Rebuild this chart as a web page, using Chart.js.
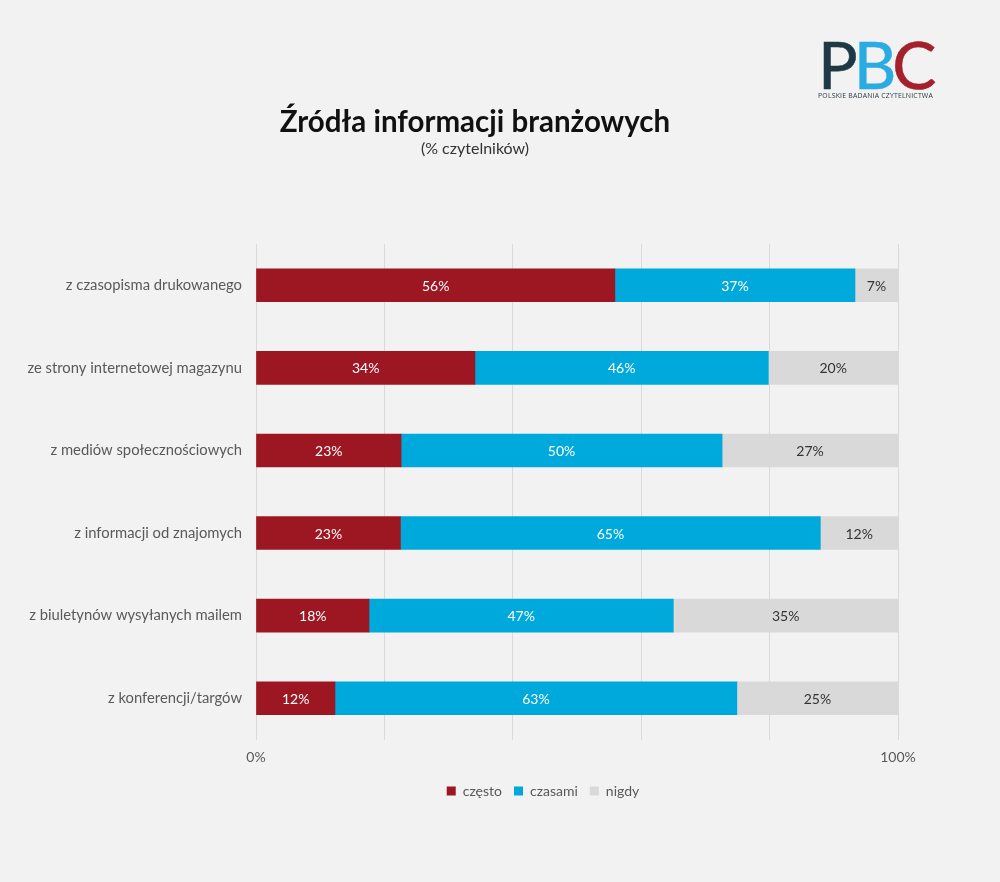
<!DOCTYPE html>
<html><head><meta charset="utf-8">
<script src="https://cdn.jsdelivr.net/npm/chart.js@4.4.1/dist/chart.umd.min.js"></script>
<style>
html,body{margin:0;padding:0;background:#f2f2f2;}
#wrap{position:relative;width:1000px;height:882px;overflow:hidden;}
#c{position:absolute;left:0;top:0;}
#title{position:absolute;left:0;width:950px;top:104px;text-align:center;font:700 29.5px Lato;color:#111;line-height:34px;}
#sub{position:absolute;left:0;width:950px;top:139px;text-align:center;font:400 16px Lato;color:#333;line-height:18px;}
#logo{position:absolute;left:818px;top:29px;width:140px;}
#logo .l{font:400 66px Lato;line-height:70px;letter-spacing:-4px;white-space:nowrap;}
#logo .l span{-webkit-text-stroke:0.6px currentColor;}
#logo .s{font:400 6.9px "Open Sans";color:#2b3a44;letter-spacing:0.2px;white-space:nowrap;margin-top:-8px;margin-left:0px;}
</style></head>
<body><div id="wrap">
<canvas id="c" width="1000" height="882"></canvas>
<div id="logo"><div class="l"><span style="color:#1e3846">P</span><span style="color:#2aace2">B</span><span style="color:#a4202c">C</span></div><div class="s">POLSKIE BADANIA CZYTELNICTWA</div></div>
<div id="title">Źródła informacji branżowych</div>
<div id="sub">(% czytelników)</div>
</div>
<script>
const categories = ['z czasopisma drukowanego','ze strony internetowej magazynu','z mediów społecznościowych','z informacji od znajomych','z biuletynów wysyłanych mailem','z konferencji/targów'];
const czesto = [55.9, 34.1, 22.6, 22.5, 17.6, 12.3];
const czasami = [37.4, 45.7, 50.0, 65.4, 47.4, 62.6];
const nigdy = [6.7, 20.2, 27.4, 12.1, 35.0, 25.1];
const seriesNames = ['często','czasami','nigdy'];
const xTickLabels = {0:'0%', 100:'100%'};

const colors = ['#9c1722','#00a9dc','#d9d9d9'];
const labelColors = ['#ffffff','#ffffff','#333333'];

const valueLabels = {
  id:'valueLabels',
  afterDatasetsDraw(chart){
    const ctx = chart.ctx;
    ctx.save();
    ctx.font = '400 14px Lato';
    ctx.textAlign = 'center';
    ctx.textBaseline = 'middle';
    chart.data.datasets.forEach((ds,i)=>{
      const meta = chart.getDatasetMeta(i);
      meta.data.forEach((el,j)=>{
        const v = ds.data[j];
        ctx.fillStyle = labelColors[i];
        ctx.fillText(Math.round(v)+'%', (el.x+el.base)/2, el.y+1);
      });
    });
    ctx.restore();
  }
};

// centre the legend under the region x=188..898 as in the reference
const legendShift = {
  id:'legendShift',
  afterLayout(chart){ if (chart.legend) { chart.legend.left = 188; } }
};

new Chart(document.getElementById('c'), {
  type:'bar',
  data:{
    labels: categories,
    datasets:[
      {label:seriesNames[0], data:czesto, backgroundColor:colors[0], barThickness:33},
      {label:seriesNames[1], data:czasami, backgroundColor:colors[1], barThickness:33},
      {label:seriesNames[2], data:nigdy, backgroundColor:colors[2], barThickness:33}
    ]
  },
  options:{
    indexAxis:'y',
    responsive:false,
    animation:false,
    devicePixelRatio:1,
    layout:{padding:{left:20,right:102,top:244,bottom:74}},
    scales:{
      x:{stacked:true,min:0,max:100,
        ticks:{stepSize:20,autoSkip:false,maxRotation:0,padding:10,color:'#595959',font:{family:'Lato',size:14},
          callback:(v)=> (xTickLabels[v] !== undefined ? xTickLabels[v] : '')},
        grid:{color:'#d9d9d9',lineWidth:1,drawTicks:false},
        border:{display:false},
        afterFit:(s)=>{s.height=32.5;}
      },
      y:{stacked:true,
        grid:{display:false,drawTicks:false},
        border:{display:false},
        ticks:{padding:14,color:'#595959',font:{family:'Lato',size:14.8}},
        afterFit:(s)=>{s.width=236;}
      }
    },
    plugins:{
      legend:{position:'bottom',
        labels:{boxWidth:9,boxHeight:9,padding:12,color:'#595959',font:{family:'Lato',size:14}}},
      tooltip:{enabled:false}
    }
  },
  plugins:[valueLabels, legendShift]
});
</script>
</body></html>
